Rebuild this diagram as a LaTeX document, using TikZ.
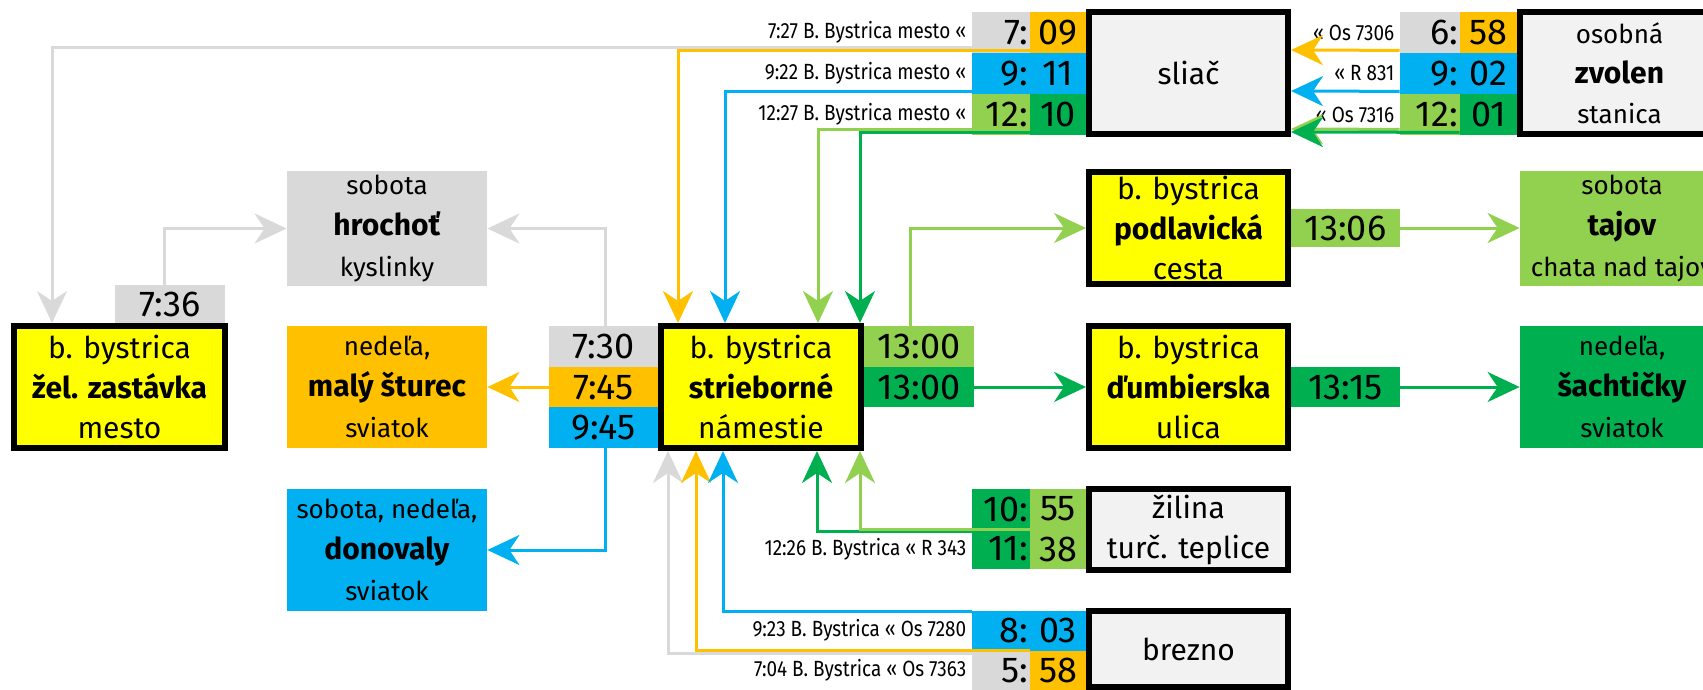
\documentclass[tikz,border=0pt]{standalone}
\usepackage{fontspec}
\setmainfont{Fira Sans}
\newfontfamily\notefont[FakeStretch=0.86]{Fira Sans}
\usetikzlibrary{arrows.meta}

\definecolor{stopyellow}{HTML}{FFFF00}
\definecolor{boxgray}{HTML}{F2F2F2}
\definecolor{tgray}{HTML}{D9D9D9}
\definecolor{torange}{HTML}{FFC000}
\definecolor{tblue}{HTML}{00B0F0}
\definecolor{tlgreen}{HTML}{92D050}
\definecolor{tdgreen}{HTML}{00B050}

\newcommand{\smallline}[1]{{\fontsize{13}{20.5}\selectfont #1}}

\tikzset{
  stopbox/.style={draw=black, line width=3pt, fill=stopyellow, align=center, inner sep=0pt, font=\fontsize{15}{20}\selectfont},
  townbox/.style={stopbox, fill=boxgray},
  destbox/.style={inner sep=0pt, align=center, minimum width=100pt, minimum height=61pt, font=\fontsize{15}{20.5}\selectfont},
  cell/.style={inner sep=0pt, minimum height=20.5pt, font=\fontsize{18}{18}\selectfont},
  hourcell/.style={cell, text width=#1, align=right, inner xsep=1pt},
  hourcell/.default=27pt,
  mincell/.style={cell, minimum width=28pt},
  timebox/.style={cell, minimum width=55pt},
  note/.style={inner sep=0pt, anchor=east, font=\notefont\fontsize{11}{11}\selectfont},
  conn/.style={line width=1.5pt, -{Stealth[length=16pt, width=15pt, inset=5pt]}},
}

\begin{document}
\begin{tikzpicture}[x=0.5pt, y=-0.5pt]
    \useasboundingbox (0,0) rectangle (1703,690);
    \clip (0,0) rectangle (1703,690);

    % Destinations
    \node[destbox, fill=tgray, minimum height=57.5pt] (hrochot) at (387,228.5) {\smallline{sobota}\\\textbf{hrochoť}\\\smallline{kyslinky}};
    \node[destbox, fill=torange] (maly) at (387,387) {\smallline{nedeľa,}\\\textbf{malý šturec}\\\smallline{sviatok}};
    \node[destbox, fill=tblue] (donovaly) at (387,550) {\smallline{sobota, nedeľa,}\\\textbf{donovaly}\\\smallline{sviatok}};
    \node[destbox, fill=tlgreen, minimum width=102pt, minimum height=57.5pt] (tajov) at (1622,228.5) {\smallline{sobota}\\\textbf{tajov}\\\smallline{chata nad tajov}};
    \node[destbox, fill=tdgreen, minimum width=102pt] (sacht) at (1622,387) {\smallline{nedeľa,}\\\textbf{šachtičky}\\\smallline{sviatok}};

    % Stops in b. bystrica
    \node[stopbox, minimum width=105.5pt, minimum height=61pt] (zastavka) at (119.5,387) {b. bystrica\\\textbf{žel. zastávka}\\mesto};
    \node[stopbox, minimum width=100pt, minimum height=61pt] (strieb) at (761,387) {b. bystrica\\\textbf{strieborné}\\námestie};
    \node[stopbox, minimum width=99.5pt, minimum height=56pt] (podlav) at (1188.5,228) {b. bystrica\\\textbf{podlavická}\\cesta};
    \node[stopbox, minimum width=99.5pt, minimum height=61pt] (dumb) at (1188.5,387) {b. bystrica\\\textbf{ďumbierska}\\ulica};

    % Railway stations
    \node[townbox, minimum width=99.5pt, minimum height=61pt] (sliac) at (1188.5,73) {sliač};
    \node[townbox, minimum width=99.5pt, minimum height=61pt] (zvolen) at (1619.5,73) {\smallline{osobná}\\\textbf{zvolen}\\\smallline{stanica}};
    \node[townbox, minimum width=99.5pt, minimum height=40.5pt] (zilina) at (1188.5,529.5) {žilina\\turč. teplice};
    \node[townbox, minimum width=99.5pt, minimum height=38pt] (brezno) at (1188.5,649) {brezno};

    % Bus departures
    \node[timebox, fill=tgray, minimum height=19pt] (t736) at (170,304) {7:36};
    \node[timebox, fill=tgray, minimum width=54.5pt, minimum height=20.33pt] (t730) at (603.5,346.33) {7:30};
    \node[timebox, fill=torange, minimum width=54.5pt, minimum height=20.33pt] (t745) at (603.5,387) {7:45};
    \node[timebox, fill=tblue, minimum width=54.5pt, minimum height=20.33pt] (t945) at (603.5,427.67) {9:45};
    \node[timebox, fill=tlgreen, minimum height=20.33pt] (t1300a) at (919,346.33) {13:00};
    \node[timebox, fill=tdgreen, minimum height=20.33pt] (t1300b) at (919,387) {13:00};
    \node[timebox, fill=tlgreen, minimum width=54.5pt, minimum height=19pt] (t1306) at (1345.5,228) {13:06};
    \node[timebox, fill=tdgreen, minimum width=54.5pt, minimum height=20.33pt] (t1315) at (1345.5,387) {13:15};

    % Trains at sliac
    \node[hourcell, fill=tgray] (sl1h) at (1001,32.5) {7:};
    \node[mincell, fill=torange] (sl1m) at (1058,32.5) {09};
    \node[hourcell, fill=tblue] (sl2h) at (1001,73.5) {9:};
    \node[mincell, fill=tblue] (sl2m) at (1058,73.5) {11};
    \node[hourcell, fill=tlgreen] (sl3h) at (1001,114.5) {12:};
    \node[mincell, fill=tdgreen] (sl3m) at (1058,114.5) {10};
    \node[hourcell=28pt, fill=tgray] (sr1h) at (1430,32.5) {6:};
    \node[mincell, fill=torange, minimum width=28.5pt] (sr1m) at (1488.5,32.5) {58};
    \node[hourcell=28pt, fill=tblue] (sr2h) at (1430,73.5) {9:};
    \node[mincell, fill=tblue, minimum width=28.5pt] (sr2m) at (1488.5,73.5) {02};
    \node[hourcell=28pt, fill=tlgreen] (sr3h) at (1430,114.5) {12:};
    \node[mincell, fill=tdgreen, minimum width=28.5pt] (sr3m) at (1488.5,114.5) {01};

    % Trains at zilina and brezno
    \node[hourcell, fill=tdgreen, minimum height=20pt] (zi1h) at (1001,509) {10:};
    \node[mincell, fill=tlgreen, minimum height=20pt] (zi1m) at (1058,509) {55};
    \node[hourcell, fill=tdgreen, minimum height=20pt] (zi2h) at (1001,549) {11:};
    \node[mincell, fill=tlgreen, minimum height=20pt] (zi2m) at (1058,549) {38};
    \node[hourcell, fill=tblue, minimum height=19.75pt] (br1h) at (1001,630.75) {8:};
    \node[mincell, fill=tblue, minimum height=19.75pt] (br1m) at (1058,630.75) {03};
    \node[hourcell, fill=tgray, minimum height=19.75pt] (br2h) at (1001,670.25) {5:};
    \node[mincell, fill=torange, minimum height=19.75pt] (br2m) at (1058,670.25) {58};

    % Train notes
    \node[note] (nsl1) at ([xshift=-2.5pt]sl1h.west) {7:27 B. Bystrica mesto «};
    \node[note] (nsl2) at ([xshift=-2.5pt]sl2h.west) {9:22 B. Bystrica mesto «};
    \node[note] (nsl3) at ([xshift=-2.5pt]sl3h.west) {12:27 B. Bystrica mesto «};
    \node[note] (nsr1) at ([xshift=-2.5pt]sr1h.west) {« Os 7306};
    \node[note] (nsr2) at ([xshift=-2.5pt]sr2h.west) {« R 831};
    \node[note] (nsr3) at ([xshift=-2.5pt]sr3h.west) {« Os 7316};
    \node[note] (nzi) at ([xshift=-2.5pt]zi2h.west) {12:26 B. Bystrica « R 343};
    \node[note] (nbr1) at ([xshift=-2.5pt]br1h.west) {9:23 B. Bystrica « Os 7280};
    \node[note] (nbr2) at ([xshift=-2.5pt]br2h.west) {7:04 B. Bystrica « Os 7363};

    % From sliac
    \draw[conn, tgray] ([yshift=3pt]sl1h.south west) -| ([xshift=20.5pt]zastavka.north west);
    \draw[conn, torange] ([yshift=1.5pt]sl1m.south west) -| ([xshift=10pt]strieb.north west);
    \draw[conn, tblue] ([yshift=1.5pt]sl2h.south west) -| ([xshift=33.5pt]strieb.north west);
    \draw[conn, tlgreen] ([yshift=3pt]sl3h.south west) -| ([xshift=80pt]strieb.north west);
    \draw[conn, tdgreen] ([yshift=1.5pt]sl3m.south west) -| ([xshift=101pt]strieb.north west);

    % From zvolen
    \draw[conn, torange] ([yshift=1.5pt]sr1h.south west) -- ([yshift=11.5pt]sliac.east);
    \draw[conn, tblue] ([yshift=1.5pt]sr2h.south west) -- ([yshift=-9pt]sliac.east);
    \draw[conn, tlgreen] ([yshift=3pt]sr3h.south west) -- ([yshift=-28pt]sliac.east);
    \draw[conn, tdgreen] ([yshift=1.5pt]sr3m.south west) -- ([yshift=-29.5pt]sliac.east);

    % From zilina and brezno
    \draw[conn, tdgreen] ([yshift=-1pt]zi1h.south west) -| ([xshift=79.5pt]strieb.south west);
    \draw[conn, tlgreen] (zi1m.south west) -| ([xshift=101pt]strieb.south west);
    \draw[conn, tgray] ([yshift=-1.5pt]br2h.north west) -| ([xshift=5pt]strieb.south west);
    \draw[conn, torange] (br2m.north west) -| ([xshift=19pt]strieb.south west);
    \draw[conn, tblue] ([yshift=-0.5pt]br1h.north west) -| ([xshift=32.5pt]strieb.south west);

    % Buses
    \draw[conn, tgray] ([xshift=-3pt]t736.north) |- (hrochot.west);
    \draw[conn, tgray] ([xshift=1pt]t730.north) |- (hrochot.east);
    \draw[conn, torange] (t745.west) -- (maly.east);
    \draw[conn, tblue] ([xshift=1pt]t945.south) |- (donovaly.east);
    \draw[conn, tlgreen] ([xshift=-4.5pt]t1300a.north) |- (podlav.west);
    \draw[conn, tdgreen] (t1300b.east) -- (dumb.west);
    \draw[conn, tlgreen] (t1306.east) -- (t1306.east -| tajov.west);
    \draw[conn, tdgreen] (t1315.east) -- (sacht.west);
\end{tikzpicture}
\end{document}
